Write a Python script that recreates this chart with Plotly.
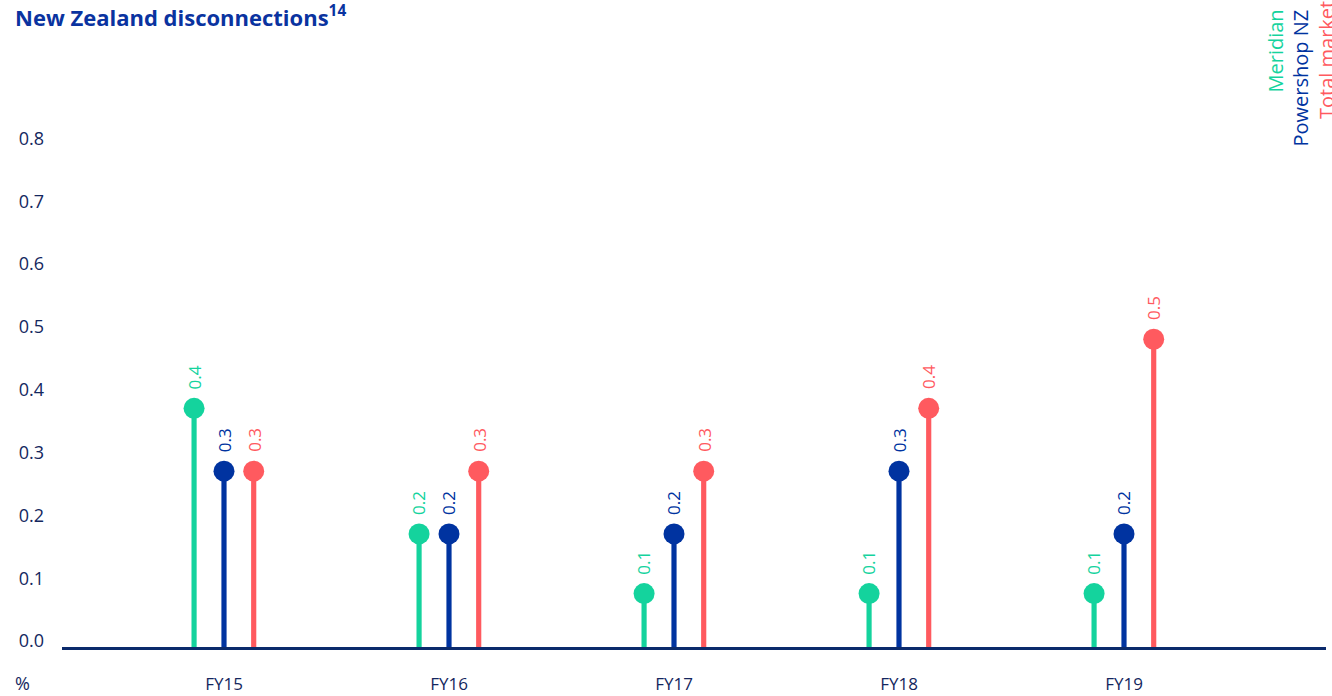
import plotly.graph_objects as go

# Share of customers disconnected (%), by financial year
categories = ["FY15", "FY16", "FY17", "FY18", "FY19"]
series_names = ["Meridian", "Powershop NZ", "Total market"]
meridian = [0.38, 0.18, 0.085, 0.085, 0.085]
powershop = [0.28, 0.18, 0.18, 0.28, 0.18]
total_market = [0.28, 0.28, 0.28, 0.38, 0.49]
y_ticks = [0.0, 0.1, 0.2, 0.3, 0.4, 0.5, 0.6, 0.7, 0.8]

colors = ["#14D39D", "#0033A0", "#FF5A5F"]
offsets = [-0.133, 0.0, 0.132]
FONT = "Open Sans"
NAVY = "#14275E"

W, H = 1332, 696
ML, MR, MT, MB = 62, 6, 40, 49
PX_PER_UNIT = 625.0   # vertical pixels per 1.0 %
PX_PER_CAT = 225.0    # horizontal pixels per category
FIRST_CAT_PX = 224.0

plot_w = W - ML - MR
plot_h = H - MT - MB
x_min = -(FIRST_CAT_PX - ML) / PX_PER_CAT
x_max = x_min + plot_w / PX_PER_CAT
y_max = (plot_h - 3) / PX_PER_UNIT

fig = go.Figure()
annotations = []

for name, vals, color, off in zip(series_names, [meridian, powershop, total_market], colors, offsets):
    xs = [i + off for i in range(len(categories))]
    # stems
    fig.add_trace(go.Bar(
        x=xs, y=vals, base=0, width=0.023,
        marker=dict(color=color, line=dict(width=0)),
        name=name, showlegend=False, hoverinfo="skip",
    ))
    # heads
    fig.add_trace(go.Scatter(
        x=xs, y=vals, mode="markers",
        marker=dict(color=color, size=21, line=dict(width=0)),
        name=name, showlegend=False,
    ))
    # rotated value labels
    for x, v in zip(xs, vals):
        annotations.append(dict(
            x=x, y=v, xref="x", yref="y", text=f"{v:.1f}",
            textangle=-90, showarrow=False, xanchor="center", yanchor="bottom",
            yshift=17, font=dict(family=FONT, size=17, color=color),
        ))

# rotated series key, top right
key_pos = [(1275, 8, "top"), (1300, 8, "top"), (1326, 121, "bottom")]
for name, color, (px, py, anchor) in zip(series_names, colors, key_pos):
    annotations.append(dict(
        x=(px - ML) / plot_w, y=(H - MB - py) / plot_h, xref="paper", yref="paper",
        text=name, textangle=-90, showarrow=False, xanchor="center", yanchor=anchor,
        font=dict(family=FONT, size=20, color=color),
    ))

# unit label under the value axis
annotations.append(dict(
    x=(13 - ML) / plot_w, y=(H - MB - 683) / plot_h, xref="paper", yref="paper",
    text="%", showarrow=False, xanchor="left", yanchor="middle",
    font=dict(family=FONT, size=18, color=NAVY),
))

fig.update_layout(
    width=W, height=H,
    margin=dict(l=ML, r=MR, t=MT, b=MB, pad=0, autoexpand=False),
    paper_bgcolor="white", plot_bgcolor="white",
    barmode="overlay",
    title=dict(
        text="<b>New Zealand disconnections<sup>14</sup></b>",
        x=15 / W, xanchor="left", y=1 - 18 / H, yanchor="middle",
        font=dict(family=FONT, size=22, color="#0A33A0"),
    ),
    annotations=annotations,
    xaxis=dict(
        range=[x_min, x_max], tickvals=list(range(len(categories))), ticktext=categories,
        showgrid=False, zeroline=False, showline=True, linecolor="#0B2A6B", linewidth=2.5,
        ticks="", ticklabelstandoff=20, automargin=False,
        tickfont=dict(family=FONT, size=17, color=NAVY),
    ),
    yaxis=dict(
        range=[0, y_max], tickvals=y_ticks, ticktext=[f"{t:.1f}" for t in y_ticks],
        showgrid=False, zeroline=False, showline=False, ticks="",
        ticklabelstandoff=17, ticklabelshift=-6, automargin=False,
        tickfont=dict(family=FONT, size=18, color=NAVY),
    ),
)

fig.write_html("out.html")
